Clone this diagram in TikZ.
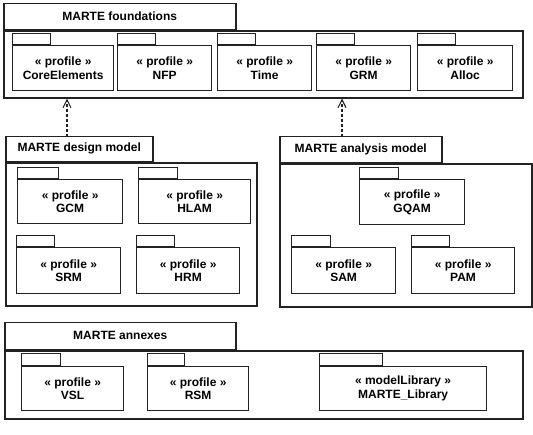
\documentclass[tikz,border=0pt]{standalone}
\usepackage{fontspec}
\setmainfont{Liberation Sans}
\usetikzlibrary{positioning,arrows.meta}
\definecolor{pkgLine}{HTML}{222222}

\begin{document}
\begin{tikzpicture}[
  x=1pt, y=-1pt,
  font=\fontsize{12}{13.5}\selectfont\bfseries,
  %% Package styles
  groupbody/.style={
    draw=pkgLine, line width=1.5pt, anchor=north west,
    inner sep=0pt
  },
  grouptab/.style={
    draw=pkgLine, line width=1.5pt, inner sep=0pt
  },
  profbody/.style={
    draw=pkgLine, line width=1.2pt, anchor=north west,
    inner sep=0pt, align=center
  },
  proftab/.style={
    draw=pkgLine, line width=1.2pt, inner sep=0pt,
    minimum width=38pt, minimum height=11pt
  },
  %% Dependency arrow
  dep/.style={-{Straight Barb[length=8pt,width=8pt]}, line width=1.1pt,
              dash pattern=on 3pt off 2pt, color=pkgLine},
]
\useasboundingbox (0,0) rectangle (533,434);

%% ── MARTE foundations ──────────────────────────────────────────────────────
\node[groupbody, minimum width=519pt, minimum height=67pt] at (3,30) (fnd) {};
\node[grouptab, above right=0pt and 0pt of fnd.north west,
      minimum width=232pt, minimum height=26pt] (fndtab) {MARTE foundations};

\node[profbody, minimum width=101pt, minimum height=45pt] at (12,45) (core)
  {« profile »\\CoreElements};
\node[proftab, above right=0pt and 0pt of core.north west] (coretab) {};
\node[profbody, minimum width=94pt, minimum height=45pt] at (117,45) (nfp)
  {« profile »\\NFP};
\node[proftab, above right=0pt and 0pt of nfp.north west] (nfptab) {};
\node[profbody, minimum width=94pt, minimum height=45pt] at (217,45) (time)
  {« profile »\\Time};
\node[proftab, above right=0pt and 0pt of time.north west] (timetab) {};
\node[profbody, minimum width=94pt, minimum height=45pt] at (316,45) (grm)
  {« profile »\\GRM};
\node[proftab, above right=0pt and 0pt of grm.north west] (grmtab) {};
\node[profbody, minimum width=95pt, minimum height=45pt] at (417,45) (alloc)
  {« profile »\\Alloc};
\node[proftab, above right=0pt and 0pt of alloc.north west] (alloctab) {};

%% ── MARTE design model ─────────────────────────────────────────────────────
\node[groupbody, minimum width=251pt, minimum height=143pt] at (5,162) (dsg) {};
\node[grouptab, above right=0pt and 0pt of dsg.north west,
      minimum width=147pt, minimum height=25pt] (dsgtab) {MARTE design model};

\node[profbody, minimum width=105pt, minimum height=44pt] at (17,179) (gcm)
  {« profile »\\GCM};
\node[proftab, above right=0pt and 0pt of gcm.north west, minimum width=41pt] (gcmtab) {};
\node[profbody, minimum width=112pt, minimum height=44pt] at (138,179) (hlam)
  {« profile »\\HLAM};
\node[proftab, above right=0pt and 0pt of hlam.north west, minimum width=39pt] (hlamtab) {};
\node[profbody, minimum width=104pt, minimum height=46pt] at (16,247) (srm)
  {« profile »\\SRM};
\node[proftab, above right=0pt and 0pt of srm.north west] (srmtab) {};
\node[profbody, minimum width=103pt, minimum height=46pt] at (136,247) (hrm)
  {« profile »\\HRM};
\node[proftab, above right=0pt and 0pt of hrm.north west] (hrmtab) {};

%% ── MARTE analysis model ───────────────────────────────────────────────────
\node[groupbody, minimum width=252pt, minimum height=143pt] at (279,163) (ana) {};
\node[grouptab, above right=0pt and 0pt of ana.north west,
      minimum width=162pt, minimum height=26pt] (anatab) {MARTE analysis model};

\node[profbody, minimum width=105pt, minimum height=45pt] at (359,179) (gqam)
  {« profile »\\GQAM};
\node[proftab, above right=0pt and 0pt of gqam.north west, minimum width=39pt] (gqamtab) {};
\node[profbody, minimum width=104pt, minimum height=46pt] at (291,247) (sam)
  {« profile »\\SAM};
\node[proftab, above right=0pt and 0pt of sam.north west, minimum width=39pt] (samtab) {};
\node[profbody, minimum width=103pt, minimum height=46pt] at (411,247) (pam)
  {« profile »\\PAM};
\node[proftab, above right=0pt and 0pt of pam.north west] (pamtab) {};

%% ── MARTE annexes ──────────────────────────────────────────────────────────
\node[groupbody, minimum width=518pt, minimum height=68pt] at (4,350) (anx) {};
\node[grouptab, above right=0pt and 0pt of anx.north west,
      minimum width=231pt, minimum height=27pt] (anxtab) {MARTE annexes};

\node[profbody, minimum width=102pt, minimum height=44pt] at (21,366) (vsl)
  {« profile »\\VSL};
\node[proftab, above right=0pt and 0pt of vsl.north west, minimum width=39pt,
      minimum height=12pt] (vsltab) {};
\node[profbody, minimum width=101pt, minimum height=44pt] at (147,366) (rsm)
  {« profile »\\RSM};
\node[proftab, above right=0pt and 0pt of rsm.north west, minimum width=37pt,
      minimum height=12pt] (rsmtab) {};
\node[profbody, minimum width=167pt, minimum height=44pt] at (319,366) (lib)
  {« modelLibrary »\\MARTE\_Library};
\node[proftab, above right=0pt and 0pt of lib.north west, minimum width=63pt,
      minimum height=12pt] (libtab) {};

%% ── Dependencies ───────────────────────────────────────────────────────────
\coordinate (dsgdep) at (67,137);
\coordinate (anadep) at (342,137);
\draw[dep] (dsgdep) -- (dsgdep |- fnd.south);
\draw[dep] (anadep) -- (anadep |- fnd.south);

\end{tikzpicture}
\end{document}
